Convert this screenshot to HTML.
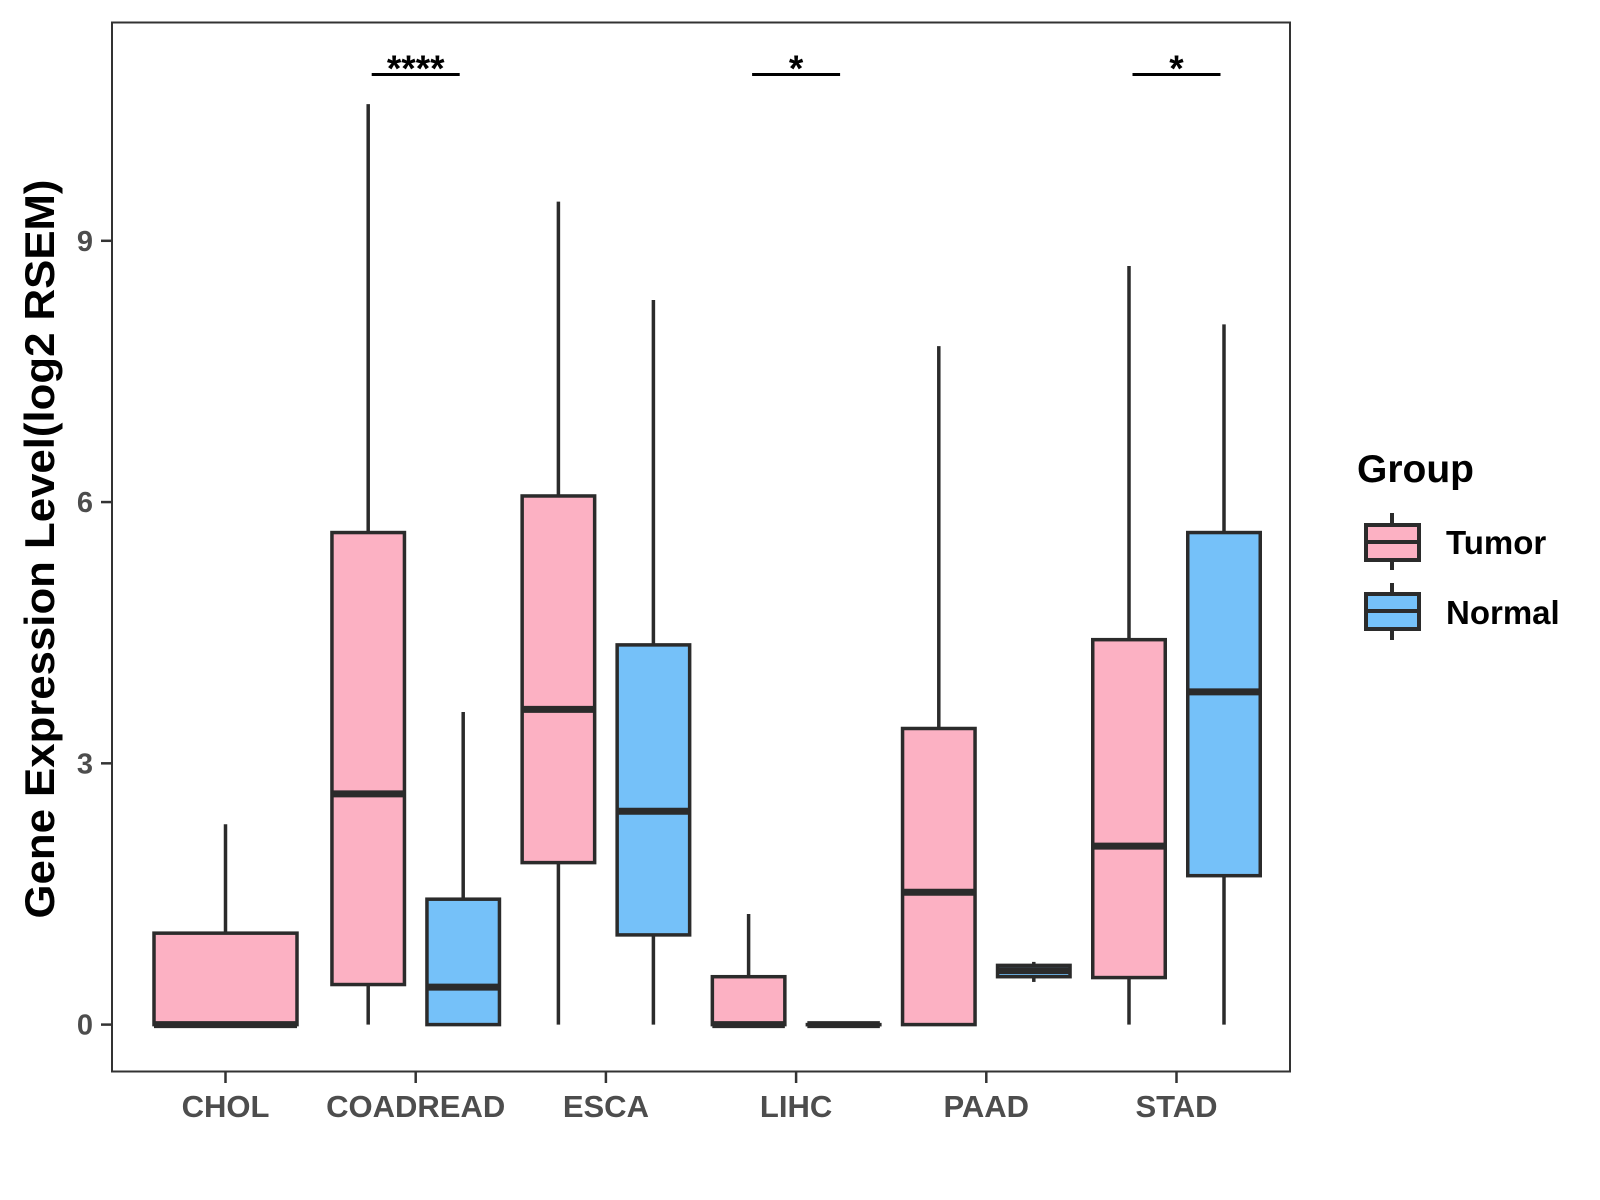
<!DOCTYPE html>
<html><head><meta charset="utf-8"><style>
html,body{margin:0;padding:0;background:#fff;}
svg{display:block;font-family:"Liberation Sans",Arial,sans-serif;}
</style></head><body>
<svg id="chart" width="1600" height="1200" viewBox="0 0 1600 1200">
<rect x="0" y="0" width="1600" height="1200" fill="#fff"/>
<g id="marks"></g>
<rect x="112" y="22.5" width="1178" height="1049" fill="none" stroke="#333" stroke-width="2"/>
<g id="axes"></g>
<text x="54" y="549" transform="rotate(-90 54 549)" text-anchor="middle" font-weight="bold" font-size="42" textLength="739" lengthAdjust="spacingAndGlyphs" fill="#000">Gene Expression Level(log2 RSEM)</text>
<g>
<text x="1357" y="482" font-weight="bold" font-size="39" fill="#000">Group</text>
<g>
<line x1="1392" y1="513" x2="1392" y2="570" stroke="#2b2b2b" stroke-width="4"/>
<rect x="1366" y="525" width="53" height="35" fill="#FCB1C3" stroke="#2b2b2b" stroke-width="4"/>
<line x1="1366" y1="542" x2="1419" y2="542" stroke="#2b2b2b" stroke-width="4"/>
<text x="1446" y="554" font-weight="bold" font-size="33" fill="#000">Tumor</text>
</g>
<g>
<line x1="1392" y1="583" x2="1392" y2="640" stroke="#2b2b2b" stroke-width="4"/>
<rect x="1366" y="594" width="53" height="35" fill="#75C1F9" stroke="#2b2b2b" stroke-width="4"/>
<line x1="1366" y1="611" x2="1419" y2="611" stroke="#2b2b2b" stroke-width="4"/>
<text x="1446" y="624" font-weight="bold" font-size="33" fill="#000">Normal</text>
</g>
</g>
</svg>
<script>
const categories = ["CHOL","COADREAD","ESCA","LIHC","PAAD","STAD"];
// [min, q1, median, q3, max]
const tumorStats = [
 [0,0,0,1.05,2.3],
 [0,0.46,2.65,5.65,10.57],
 [0,1.86,3.62,6.07,9.45],
 [0,0,0,0.55,1.27],
 [0,0,1.52,3.4,7.79],
 [0,0.54,2.05,4.42,8.71]
];
const normalStats = [
 null,
 [0,0,0.43,1.44,3.59],
 [0,1.03,2.45,4.36,8.32],
 [0,0,0,0,0],
 [0.49,0.55,0.62,0.68,0.72],
 [0,1.71,3.82,5.65,8.04]
];
const sigLabels = ["","****","","*","","*"];
const yTicks = [0,3,6,9];

const NS="http://www.w3.org/2000/svg";
const zeroY=1024.6, nineY=240.8;
const unitPx=(zeroY-nineY)/9;
function y(v){return zeroY-v*unitPx;}
const x0=225.5, step=190.2;
function x(i){return x0+i*step;}
function mk(tag,attrs,parent){const e=document.createElementNS(NS,tag);for(const k in attrs)e.setAttribute(k,attrs[k]);parent.appendChild(e);return e;}
const marks=document.getElementById('marks'), axes=document.getElementById('axes');
const ink="#2b2b2b";
const off=47.5, bw=72.5;
function drawBox(cx,w,s,fill,name){
  const g=mk('g',{},marks);
  
  
  mk('line',{x1:cx,x2:cx,y1:y(s[3]),y2:y(s[4]),stroke:ink,'stroke-width':3.5},g);
  mk('line',{x1:cx,x2:cx,y1:y(s[0]),y2:y(s[1]),stroke:ink,'stroke-width':3.5},g);
  mk('rect',{x:cx-w/2,y:y(s[3]),width:w,height:Math.max(y(s[1])-y(s[3]),0.1),fill:fill,stroke:ink,'stroke-width':3.5},g);
  mk('line',{x1:cx-w/2,x2:cx+w/2,y1:y(s[2]),y2:y(s[2]),stroke:ink,'stroke-width':7},g);
}
categories.forEach((c,i)=>{
  if(normalStats[i]){
    drawBox(x(i)-off,bw,tumorStats[i],"#FCB1C3","box-"+c.toLowerCase()+"-tumor");
    drawBox(x(i)+off,bw,normalStats[i],"#75C1F9","box-"+c.toLowerCase()+"-normal");
  } else {
    drawBox(x(i),143,tumorStats[i],"#FCB1C3","box-"+c.toLowerCase()+"-tumor");
  }
  if(sigLabels[i]){
    const l=mk('line',{x1:x(i)-44,x2:x(i)+44,y1:74.5,y2:74.5,stroke:"#000",'stroke-width':3},marks);
    
    
    const t=mk('text',{x:x(i),y:81,'text-anchor':'middle','font-size':37,'font-weight':'bold',fill:'#000'},marks);
    t.textContent=sigLabels[i];
    
    
  }
  mk('line',{x1:x(i),x2:x(i),y1:1071.5,y2:1083,stroke:"#333",'stroke-width':2.5},axes);
  const t=mk('text',{x:x(i),y:1117,'text-anchor':'middle','font-size':31,'font-weight':'bold',fill:'#4d4d4d'},axes);
  t.textContent=c;
  
  
});
yTicks.forEach(v=>{
  mk('line',{x1:101,x2:112,y1:y(v),y2:y(v),stroke:"#333",'stroke-width':2.5},axes);
  const t=mk('text',{x:93,y:y(v)+10,'text-anchor':'end','font-size':29,'font-weight':'bold',fill:'#4d4d4d'},axes);
  t.textContent=v;
  
  
});
</script>
</body></html>
